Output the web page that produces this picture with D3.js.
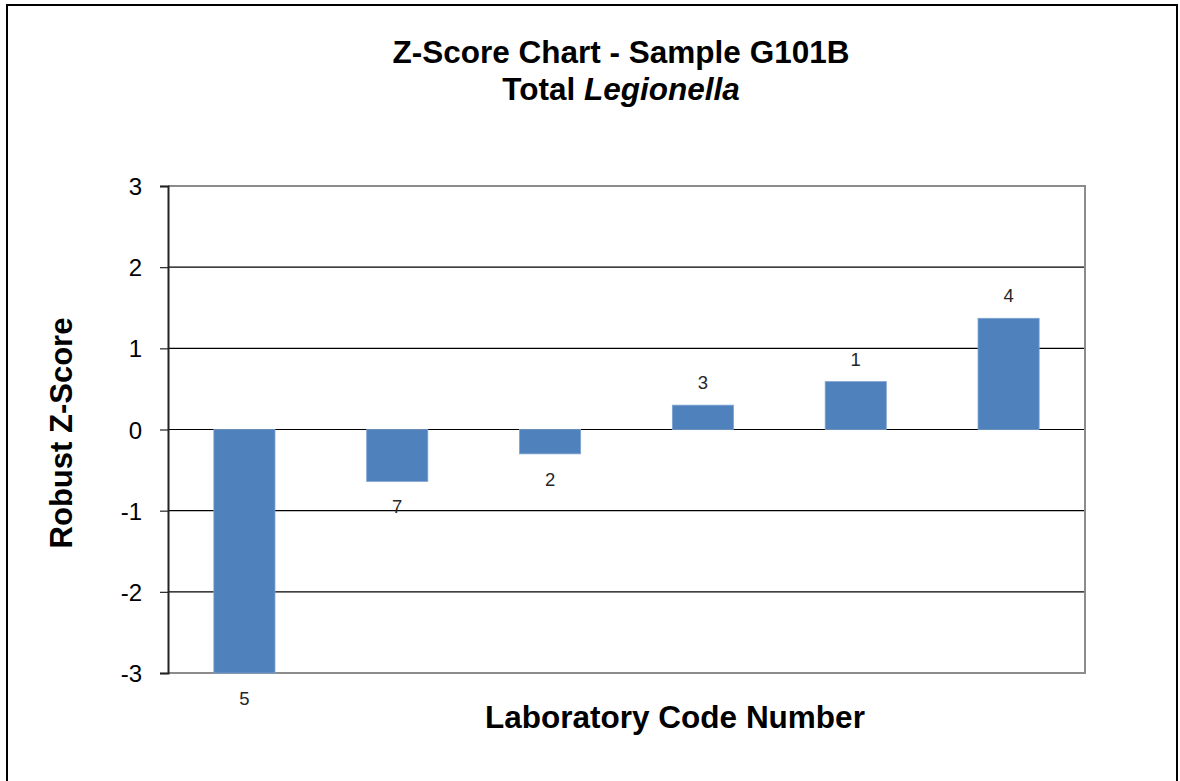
<!DOCTYPE html>
<html>
<head>
<meta charset="utf-8">
<script src="https://cdn.jsdelivr.net/npm/d3@7"></script>
<style>
	body { margin: 0; background: #fff; }
	svg text { font-family: "Liberation Sans", Arial, sans-serif; }
</style>
</head>
<body>
<div id="chart"></div>
<script>
// lab codes in the order they appear, and their robust z-scores
const labCodes = ["5", "7", "2", "3", "1", "4"];
const zScores = [-3.0, -0.64, -0.30, 0.30, 0.59, 1.37];
const yTicks = [3, 2, 1, 0, -1, -2, -3];

const width = 1180, height = 781;
const plot = { left: 168, right: 1085, top: 186, bottom: 673 };

const svg = d3.select("#chart").append("svg")
	.attr("width", width)
	.attr("height", height);

// outer frame (bottom runs off the page)
svg.append("rect")
	.attr("x", 7).attr("y", 5)
	.attr("width", 1170).attr("height", 820)
	.attr("fill", "#fff")
	.attr("stroke", "#000")
	.attr("stroke-width", 2);

const x = d3.scaleBand()
	.domain(labCodes)
	.range([plot.left, plot.right])
	.paddingInner(0.6)
	.paddingOuter(0.3);

const y = d3.scaleLinear()
	.domain([-3, 3])
	.range([plot.bottom, plot.top]);

// gridlines
svg.append("g")
	.selectAll("line")
	.data(yTicks.filter(d => d !== 3 && d !== -3))
	.join("line")
	.attr("x1", plot.left).attr("x2", plot.right)
	.attr("y1", d => y(d)).attr("y2", d => y(d))
	.attr("stroke", "#000")
	.attr("stroke-width", 1.2);

// top / right / bottom border of plot area
svg.append("path")
	.attr("d", `M${plot.left},${y(3)}H${plot.right}V${y(-3)}H${plot.left}`)
	.attr("fill", "none")
	.attr("stroke", "#8c8c8c")
	.attr("stroke-width", 2);

// bars
const data = labCodes.map((c, i) => ({ code: c, z: zScores[i] }));

svg.append("g")
	.selectAll("rect")
	.data(data)
	.join("rect")
	.attr("x", d => x(d.code))
	.attr("width", x.bandwidth())
	.attr("y", d => y(Math.max(0, d.z)))
	.attr("height", d => Math.abs(y(d.z) - y(0)))
	.attr("fill", "#4f81bd")
	.attr("stroke", "#7ea3d2")
	.attr("stroke-width", 0.8);

// value labels (lab code number at the end of each bar)
svg.append("g")
	.selectAll("text")
	.data(data)
	.join("text")
	.attr("x", d => x(d.code) + x.bandwidth() / 2)
	.attr("y", d => d.z >= 0 ? y(d.z) - 16 : y(d.z) + 32)
	.attr("text-anchor", "middle")
	.attr("font-size", 18.5)
	.attr("fill", "#262626")
	.text(d => d.code);

// y axis
const yAxis = svg.append("g")
	.attr("transform", `translate(${plot.left},0)`)
	.call(d3.axisLeft(y).tickValues(yTicks).tickSize(8).tickPadding(18).tickFormat(d => String(d)));
yAxis.select(".domain").attr("stroke", "#222").attr("stroke-width", 2);
yAxis.selectAll(".tick line").attr("stroke", "#222").attr("stroke-width", 1.2);
yAxis.selectAll(".tick text")
	.attr("font-size", 24)
	.attr("font-family", "Liberation Sans, Arial, sans-serif")
	.attr("fill", "#000")
	.attr("dy", "0.36em");

// titles
const title = svg.append("text")
	.attr("x", 621)
	.attr("y", 63)
	.attr("text-anchor", "middle")
	.attr("font-size", 31.5)
	.attr("font-weight", "bold");
title.append("tspan").text("Z-Score Chart - Sample G101B");
const title2 = svg.append("text")
	.attr("x", 621)
	.attr("y", 100)
	.attr("text-anchor", "middle")
	.attr("font-size", 31.5)
	.attr("font-weight", "bold");
title2.append("tspan").text("Total ");
title2.append("tspan").attr("font-style", "italic").text("Legionella");

svg.append("text")
	.attr("x", 675)
	.attr("y", 728)
	.attr("text-anchor", "middle")
	.attr("font-size", 31.5)
	.attr("font-weight", "bold")
	.text("Laboratory Code Number");

svg.append("text")
	.attr("transform", "translate(72,433) rotate(-90)")
	.attr("text-anchor", "middle")
	.attr("font-size", 31)
	.attr("font-weight", "bold")
	.text("Robust Z-Score");
</script>
</body>
</html>
